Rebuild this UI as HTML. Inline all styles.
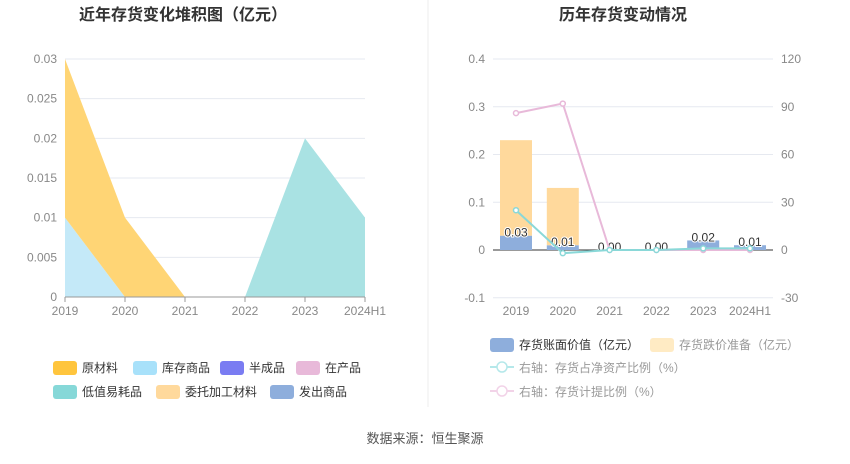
<!DOCTYPE html>
<html><head><meta charset="utf-8"><style>
body{margin:0;background:#fff;font-family:"Liberation Sans","Noto Sans CJK SC",sans-serif;}
svg text{font-family:"Liberation Sans","Noto Sans CJK SC",sans-serif;}
</style></head><body>
<svg id="c" width="850" height="459" viewBox="0 0 850 459" xmlns="http://www.w3.org/2000/svg">
<text x="183" y="20" text-anchor="middle" font-size="16" font-weight="bold" fill="#333">近年存货变化堆积图（亿元）</text>
<text x="623" y="20" text-anchor="middle" font-size="16" font-weight="bold" fill="#333">历年存货变动情况</text>
<line x1="428" y1="0" x2="428" y2="407" stroke="#eee"/>
<g id="left"></g><g id="right"></g>
<g id="legend"></g>
<text x="425" y="443" text-anchor="middle" font-size="13" fill="#555">数据来源：恒生聚源</text>
</svg>
<script>
const years=["2019","2020","2021","2022","2023","2024H1"];
const leftTicks=[0,0.005,0.01,0.015,0.02,0.025,0.03];
const stockGoods=[0.01,0,0,0,0,0];
const consignMat=[0.02,0.01,0,0,0,0];
const lowValue=[0,0,0,0,0.02,0.01];
const bookValue=[0.03,0.01,0,0,0.02,0.01];
const impairment=[0.2,0.12,0,0,0,0];
const assetRatio=[25,-2,0,0,1,1];
const provisionRatio=[86,92,0,0,0,0];
const rightTicksL=[-0.1,0,0.1,0.2,0.3,0.4];
const rightTicksR=[-30,0,30,60,90,120];
const NS="http://www.w3.org/2000/svg";
const TC='#888';
function mk(p,t,a,name){const e=document.createElementNS(NS,t);for(const k in a)e.setAttribute(k,a[k]);


p.appendChild(e);return e;}
const L=document.getElementById('left');
const lx=i=>65+i*60, ly=v=>297-v/0.03*238;
leftTicks.forEach(t=>{mk(L,'line',{x1:65,x2:365,y1:ly(t),y2:ly(t),stroke:'#e6e9f0'},'grid-line');
const tx=mk(L,'text',{x:57,y:ly(t)+4,'text-anchor':'end','font-size':12,fill:TC},'y-tick-label');tx.textContent=t;});
function area(base,vals,color,name){let top=vals.map((v,i)=>[lx(i),ly(base[i]+v)]);let bot=base.map((v,i)=>[lx(i),ly(v)]).reverse();
mk(L,'polygon',{points:top.concat(bot).map(p=>p.join(',')).join(' '),fill:color},name);}
const zero=years.map(()=>0);
area(zero,stockGoods,'#c4e9f8','area-stock-goods');
area(stockGoods,consignMat,'#ffd575','area-consign-material');
area(zero,lowValue,'#a9e2e3','area-low-value');
mk(L,'line',{x1:65,x2:365,y1:297,y2:297,stroke:'#999'},'x-axis');
years.forEach((y,i)=>{mk(L,'line',{x1:lx(i),x2:lx(i),y1:297,y2:302,stroke:'#999'},'x-tick');
const t=mk(L,'text',{x:lx(i),y:315,'text-anchor':'middle','font-size':12,fill:TC},'x-tick-label');t.textContent=y;});
const R=document.getElementById('right');
const rx=i=>516+i*46.8, ry=v=>250-v/0.1*47.75, ry2=v=>250-v/30*47.75;
rightTicksL.forEach((t,k)=>{mk(R,'line',{x1:493,x2:773,y1:ry(t),y2:ry(t),stroke:t==0?'#333':'#e6e9f0'},'grid-line');
const a=mk(R,'text',{x:485,y:ry(t)+4,'text-anchor':'end','font-size':12,fill:TC},'left-y-tick-label');a.textContent=t;
const b=mk(R,'text',{x:781,y:ry(t)+4,'font-size':12,fill:TC},'right-y-tick-label');b.textContent=rightTicksR[k];});
years.forEach((y,i)=>{const x=rx(i)-16;
mk(R,'rect',{x:x,y:ry(bookValue[i]),width:32,height:ry(0)-ry(bookValue[i]),fill:'#8eaedc'},'bar-book-value');
mk(R,'rect',{x:x,y:ry(bookValue[i]+impairment[i]),width:32,height:ry(bookValue[i])-ry(bookValue[i]+impairment[i]),fill:'#ffd99c'},'bar-impairment');
const t=mk(R,'text',{x:rx(i),y:ry(bookValue[i])+1,'text-anchor':'middle','font-size':12,fill:'#333',stroke:'#fff','stroke-width':2,'paint-order':'stroke'},'bar-value-label');t.textContent=bookValue[i].toFixed(2);
const xt=mk(R,'text',{x:rx(i),y:315,'text-anchor':'middle','font-size':12,fill:TC},'x-tick-label');xt.textContent=y;});
function line(vals,color,name){mk(R,'polyline',{points:vals.map((v,i)=>rx(i)+','+ry2(v)).join(' '),fill:'none',stroke:color,'stroke-width':2},name);
vals.forEach((v,i)=>mk(R,'circle',{cx:rx(i),cy:ry2(v),r:2.5,fill:'#fff',stroke:color,'stroke-width':1.5},name+'-point'));}
line(provisionRatio,'#e8b9d9','line-provision-ratio');
line(assetRatio,'#8ad8d8','line-asset-ratio');
const G=document.getElementById('legend');
function sw(x,y,c,label,name){mk(G,'rect',{x:x,y:y-6,width:24,height:14,rx:3,fill:c},name+'-swatch');
const t=mk(G,'text',{x:x+29,y:y+5,'font-size':12,fill:'#333'},name);t.textContent=label;}
sw(53,367,'#ffc53d','原材料','legend-raw-material');sw(133,367,'#a8e1fa','库存商品','legend-stock-goods');
sw(220,367,'#7a7cf2','半成品','legend-semi-finished');sw(296,367,'#e8b9d9','在产品','legend-wip');
sw(53,391,'#86d8d8','低值易耗品','legend-low-value');sw(156,391,'#ffd99c','委托加工材料','legend-consign-material');sw(270,391,'#8eaedc','发出商品','legend-shipped-goods');
sw(490,344,'#8eaedc','存货账面价值（亿元）','legend-book-value');sw(650,344,'#ffebc4','存货跌价准备（亿元）','legend-impairment');
G.lastChild.setAttribute('fill','#999');
function ll(y,c,label,name){mk(G,'line',{x1:490,x2:514,y1:y,y2:y,stroke:c,'stroke-width':2},name+'-line');
mk(G,'circle',{cx:502,cy:y,r:5,fill:'#fff',stroke:c,'stroke-width':1.5},name+'-marker');
const t=mk(G,'text',{x:519,y:y+5,'font-size':12,fill:'#999'},name);t.textContent=label;}
ll(367,'#b5e8ea','右轴：存货占净资产比例（%）','legend-asset-ratio');
ll(391,'#f2d3e8','右轴：存货计提比例（%）','legend-provision-ratio');
</script>
</body></html>
